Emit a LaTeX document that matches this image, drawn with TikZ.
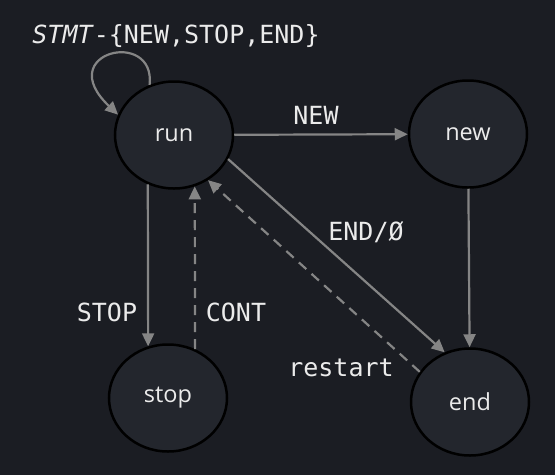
\documentclass[tikz,border=0pt]{standalone}
\usepackage{fontspec}
\setmainfont{Open Sans}
\newfontfamily\labfont{DejaVu Sans Mono}
\usetikzlibrary{shapes.geometric,arrows.meta}
\definecolor{bgc}{HTML}{1B1D23}
\definecolor{nodefill}{HTML}{23262D}
\definecolor{edgec}{HTML}{858585}
\definecolor{txtc}{HTML}{EBEBEB}
\tikzset{
  state/.style={ellipse, draw=black, line width=2.5pt, fill=nodefill,
    minimum width=118pt, minimum height=107pt, inner sep=0pt,
    text=txtc, font=\fontsize{23.5}{26}\selectfont},
  trans/.style={draw=edgec, line width=2.2pt,
    -{Triangle[length=13pt,width=12pt]}},
  dtrans/.style={trans, dash pattern=on 10pt off 7pt},
  lab/.style={text=txtc, font=\labfont\fontsize{25}{28}\selectfont, inner sep=0pt}
}
\begin{document}
\begin{tikzpicture}[x=1pt,y=-1pt]
\fill[bgc] (0,0) rectangle (555,475);
\useasboundingbox (0,0) rectangle (555,475);
\node[state] (run) at (174,135) {run};
\node[state] (new) at (468,134) {new};
\node[state] (stop) at (168,398) {stop};
\node[state] (end) at (470,402) {end};
% self loop
\draw[trans] (run.116) .. controls (156,28) and (52,52) .. (run.160);
\node[lab] (lself) at (176,36) {\textit{STMT}-\{NEW,STOP,END\}};
% edges
\draw[trans] (run) -- (new);
\node[lab] (lnew) at (316,115) {NEW};
\draw[trans] (new) -- (end);
\draw[trans] (run.242) -- (stop.111);
\node[lab] (lstop) at (107,312) {STOP};
\draw[dtrans] (stop.61) -- (run.292);
\node[lab] (lcont) at (236,312) {CONT};
\draw[trans] (run.336) -- (end.117);
\node[lab] (lend) at (366,232) {END/Ø};
\draw[dtrans] (end.149) -- (run.307);
\node[lab] (lrest) at (341,368) {restart};
\end{tikzpicture}
\end{document}
